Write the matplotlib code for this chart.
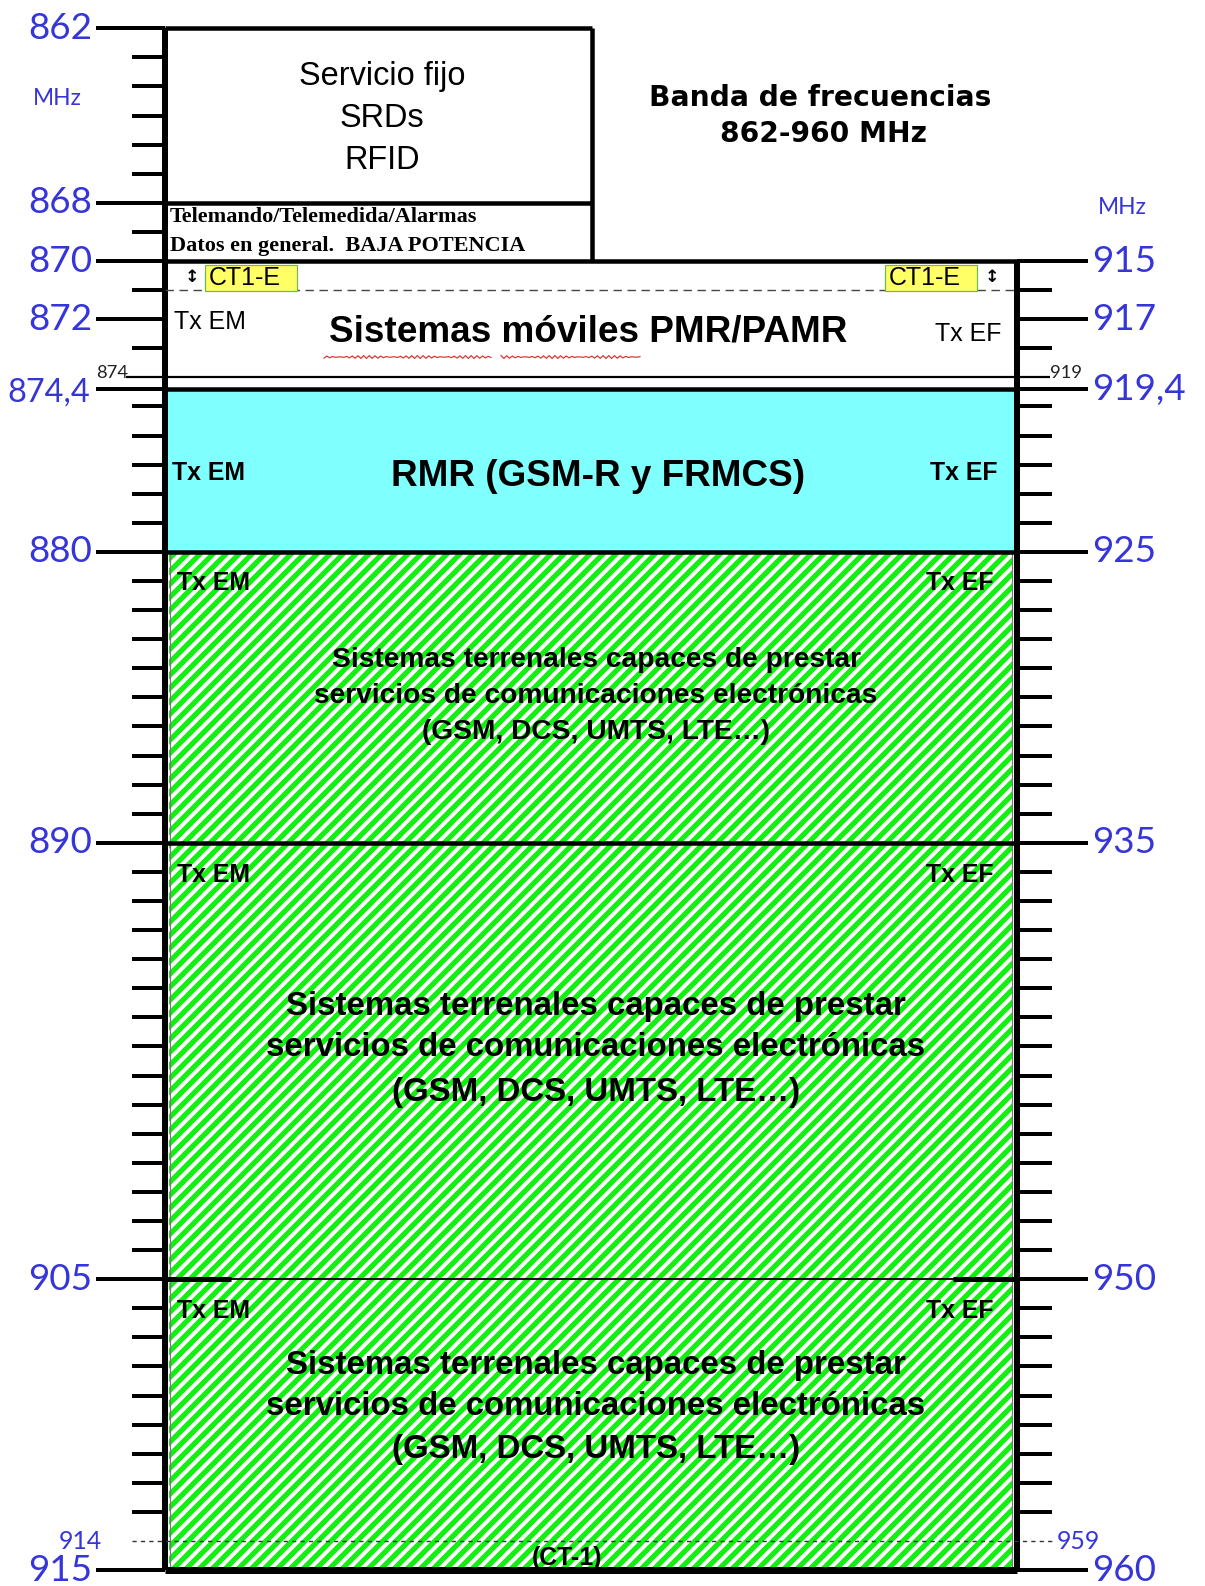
import numpy as np
import matplotlib
matplotlib.use("Agg")
import matplotlib.pyplot as plt
from matplotlib.patches import Rectangle

# ---------------- data ----------------
left_major = [862, 868, 870, 872, 874.4, 880, 890, 905, 915]
left_major_labels = ["862", "868", "870", "872", "874,4", "880", "890", "905", "915"]
right_offset = 45  # right scale = left scale + 45 MHz
right_major = [915, 917, 919.4, 925, 935, 950, 960]
right_major_labels = ["915", "917", "919,4", "925", "935", "950", "960"]
minor_step = 1
sub_edges = [874, 914]          # special thin lines with small labels
sub_left_labels = ["874", "914"]
sub_right_labels = ["919", "959"]

top_band = (862, 868)
top_band_lines = ["Servicio fijo", "SRDs", "RFID"]
srd_band = (868, 870)
srd_lines = ["Telemando/Telemedida/Alarmas", "Datos en general.  BAJA POTENCIA"]
pmr_band = (870, 874.4)
pmr_label = "Sistemas móviles PMR/PAMR"
ct1e_band = (870, 871)
ct1e_label = "CT1-E"
rmr_band = (874.4, 880)
rmr_label = "RMR (GSM-R y FRMCS)"
ecs_bands = [(880, 890), (890, 905), (905, 915)]
ecs_lines = ["Sistemas terrenales capaces de prestar",
             "servicios de comunicaciones electrónicas",
             "(GSM, DCS, UMTS, LTE…)"]
ct1_band = (914, 915)
ct1_label = "(CT-1)"
tx_left, tx_right = "Tx EM", "Tx EF"
title_lines = ["Banda de frecuencias", "862-960 MHz"]
unit = "MHz"

# ---------------- layout / style ----------------
W, H, DPI = 1205, 1586, 78
Y0, PXMHZ = 28.3, 29.09
plt.rcParams['hatch.linewidth'] = 4.8
BLUE = '#3535DA'
GREEN = '#12F012'
CYAN = '#80FFFF'
XL, XR, XBOX = 165, 1017, 592
SANS = ['Liberation Sans', 'DejaVu Sans']
LAB = ['Lato', 'DejaVu Sans']

fig = plt.figure(figsize=(W / DPI, H / DPI), dpi=DPI)
ax = fig.add_axes([0, 0, 1, 1])
ax.set_xlim(0, W)
ax.set_ylim(862 + (H - Y0) / PXMHZ, 862 - Y0 / PXMHZ)
ax.axis('off')

px = 72 / DPI  # points per pixel

# fills
for lo, hi in ecs_bands:
    ax.add_patch(Rectangle((XL + 4, lo), XR - XL - 8, hi - lo, facecolor='white',
                           edgecolor=GREEN, hatch='//', lw=0, zorder=1))
ax.add_patch(Rectangle((XL, rmr_band[0]), XR - XL, rmr_band[1] - rmr_band[0],
                       facecolor=CYAN, lw=0, zorder=1))
# thin inner gray lines of the hatched area
ax.vlines([XL + 5, XR - 5], ecs_bands[0][0], ecs_bands[-1][1], color='#777777', lw=1.2 * px, zorder=2)

# frame lines
ax.vlines(XL, left_major[0], left_major[-1], color='black', lw=6 * px, zorder=5)
ax.vlines(XR, pmr_band[0], ecs_bands[-1][1], color='black', lw=6 * px, zorder=5)
ax.vlines(XBOX, top_band[0], srd_band[1], color='black', lw=4.5 * px, zorder=5)
ax.hlines([top_band[0], top_band[1]], XL, XBOX, color='black', lw=4.5 * px, zorder=5)
ax.hlines([pmr_band[0], rmr_band[0], rmr_band[1], ecs_bands[1][0]], XL, XR,
          color='black', lw=4.5 * px, zorder=5)
ax.hlines(ecs_bands[-1][1], XL, XR, color='black', lw=7 * px, zorder=5)
ax.hlines(ecs_bands[2][0], XL, XR, color='black', lw=1.8 * px, zorder=5)
ax.hlines(ecs_bands[2][0], XL, XL + 66, color='black', lw=5 * px, zorder=5)
ax.hlines(ecs_bands[2][0], XR - 64, XR, color='black', lw=5 * px, zorder=5)

# ticks
ax.hlines(left_major, 96, XL, color='black', lw=4 * px, zorder=5)
rm = [v - right_offset for v in right_major]
ax.hlines(rm, XR, 1088, color='black', lw=4 * px, zorder=5)
skip = set(left_major) | set(sub_edges)
left_minor = [v for v in np.arange(862, 916, minor_step) if v not in skip]
ax.hlines(left_minor, 132, XL, color='black', lw=4 * px, zorder=5)
right_minor = [v for v in left_minor if v > pmr_band[0]]
ax.hlines(right_minor, XR, 1052, color='black', lw=4 * px, zorder=5)

# 874 line and 914 dotted line
ax.hlines(sub_edges[0], 126, 1050, color='black', lw=2.2 * px, zorder=5)
ax.hlines(sub_edges[1], 132, 1052, color='#333333', lw=1.4 * px, linestyles=(0, (3, 3)), zorder=5)
ax.hlines(ct1e_band[1], XL, XR, color='#444444', lw=1.4 * px, linestyles=(0, (6, 4)), zorder=5)

# labels
for v, s in zip(left_major, left_major_labels):
    fs = 30 if ',' in s else 34
    ax.text(92 if ',' not in s else 90, v + (0.12 if ',' in s else 0), s, ha='right',
            va='center', color=BLUE, fontsize=fs, family=LAB)
for v, s in zip(rm, right_major_labels):
    ax.text(1092, v, s, ha='left', va='center', color=BLUE, fontsize=34, family=LAB)
ax.text(128, sub_edges[0] - 0.14, sub_left_labels[0], ha='right', va='center', fontsize=17,
        family=LAB, color='#222222')
ax.text(1050, sub_edges[0] - 0.14, sub_right_labels[0], ha='left', va='center', fontsize=17,
        family=LAB, color='#222222')
ax.text(102, sub_edges[1] + 0.02, sub_left_labels[1], ha='right', va='center', fontsize=23,
        family=LAB, color=BLUE)
ax.text(1057, sub_edges[1] + 0.02, sub_right_labels[1], ha='left', va='center', fontsize=23,
        family=LAB, color=BLUE)
ax.text(57, 864.4, unit, ha='center', va='center', color=BLUE, fontsize=21, family=LAB)
ax.text(1122, 868.16, unit, ha='center', va='center', color=BLUE, fontsize=21, family=LAB)

# title
ax.text(820, 864.4, title_lines[0], ha='center', va='center', fontsize=26,
        fontweight='bold', family=['DejaVu Sans'])
ax.text(824, 865.65, title_lines[1], ha='center', va='center', fontsize=26,
        fontweight='bold', family=['DejaVu Sans'])

# top boxes
for f, s in zip([863.66, 865.09, 866.55], top_band_lines):
    ax.text(382, f, s, ha='center', va='center', fontsize=30, family=SANS)
for f, s in zip([868.5, 869.47], srd_lines):
    ax.text(170, f, s, ha='left', va='center', fontsize=20.5, fontweight='bold',
            family=['Liberation Serif', 'DejaVu Serif'])

# PMR band
ax.text(588, 872.45, pmr_label, ha='center', va='center', fontsize=34,
        fontweight='bold', family=SANS, zorder=6)
xs = np.linspace(324, 491, 60)
ax.plot(xs, 873.3 + 0.05 * np.sin(xs * 1.05), color='#E03030', lw=1.2 * px, zorder=6)
xs = np.linspace(501, 640, 50)
ax.plot(xs, 873.3 + 0.05 * np.sin(xs * 1.05), color='#E03030', lw=1.2 * px, zorder=6)
ax.text(174, 872.1, tx_left, ha='left', va='center', fontsize=23, family=SANS)
ax.text(1001, 872.5, tx_right, ha='right', va='center', fontsize=23, family=SANS)
for x0 in (205, 885):
    ax.add_patch(Rectangle((x0, ct1e_band[0] + 0.12), 92, ct1e_band[1] - ct1e_band[0] - 0.1,
                           facecolor='#FFFF66', edgecolor='#6DBB4A', lw=1.2 * px, zorder=6))
    ax.text(x0 + 4, 870.58, ct1e_label, ha='left', va='center', fontsize=23, family=SANS, zorder=7)
for xa in (192, 992):
    ax.text(xa, 870.55, "↕", ha='center', va='center', fontsize=16, fontweight='bold',
            family=['DejaVu Sans'], zorder=7)

# RMR band
ax.text(598, 877.4, rmr_label, ha='center', va='center', fontsize=34,
        fontweight='bold', family=SANS, zorder=6)
ax.text(172, 877.3, tx_left, ha='left', va='center', fontsize=23, fontweight='bold', family=SANS)
ax.text(997, 877.3, tx_right, ha='right', va='center', fontsize=23, fontweight='bold', family=SANS)

# ECS bands
tx_pos = [881.08, 891.1, 906.1]
line_pos = [[883.7, 884.95, 886.2], [895.63, 897.03, 898.6], [907.98, 909.37, 910.87]]
sizes = [26, 30.5, 30.5]
for tp, lp, fs in zip(tx_pos, line_pos, sizes):
    ax.text(177, tp, tx_left, ha='left', va='center', fontsize=23, fontweight='bold',
            family=SANS, zorder=6)
    ax.text(993, tp, tx_right, ha='right', va='center', fontsize=23, fontweight='bold',
            family=SANS, zorder=6)
    for f, s in zip(lp, ecs_lines):
        ax.text(596, f, s, ha='center', va='center', fontsize=fs, fontweight='bold',
                family=SANS, zorder=6)
ax.text(567, 914.6, ct1_label, ha='center', va='center', fontsize=23, fontweight='bold',
        family=SANS, zorder=6)

fig.savefig("out.png", dpi=DPI)
